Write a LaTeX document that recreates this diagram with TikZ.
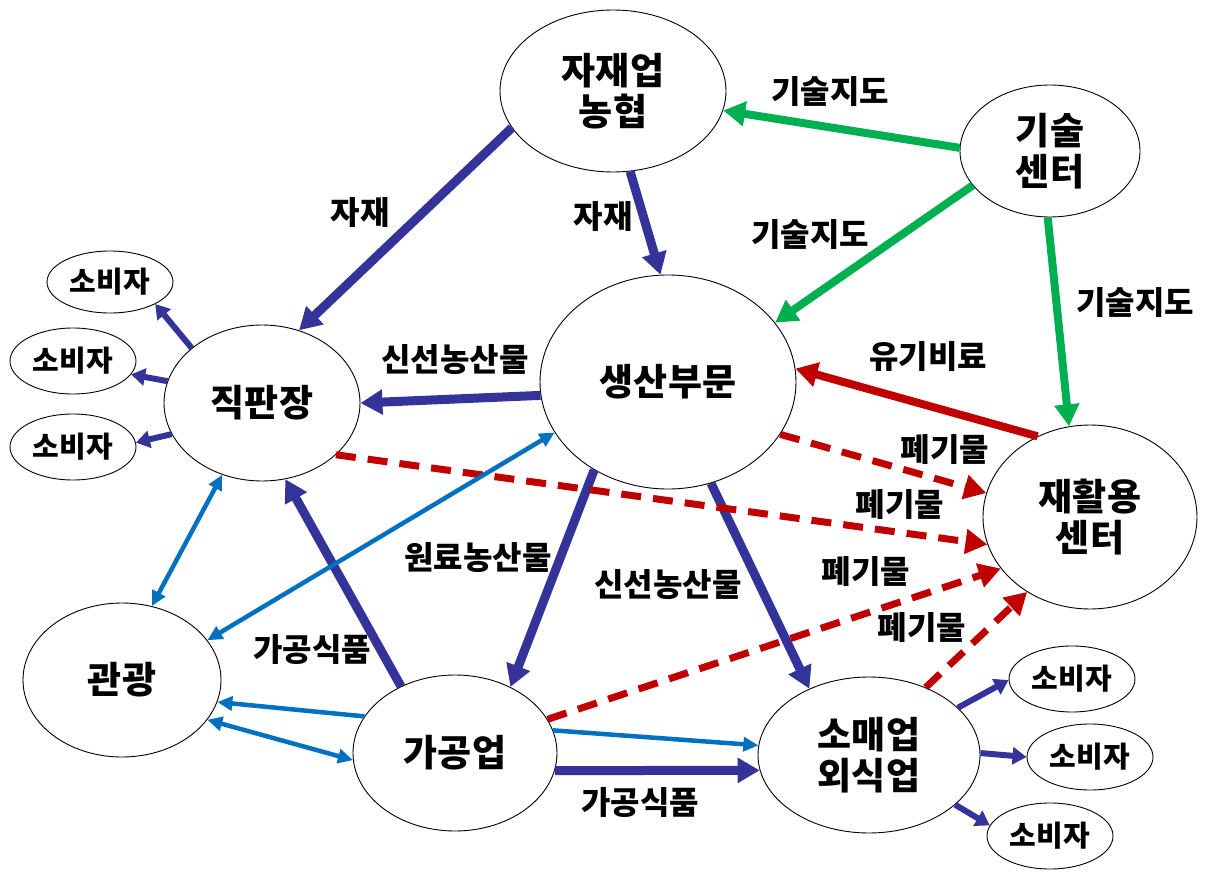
\documentclass[tikz,border=0pt]{standalone}
\usepackage{fontspec}
\newfontfamily\kr{Noto Sans CJK KR}
\usetikzlibrary{shapes.geometric,arrows.meta}
\definecolor{navy}{HTML}{333399}
\definecolor{tgreen}{HTML}{00B050}
\definecolor{tred}{HTML}{C00000}
\definecolor{tblue}{HTML}{0070C0}
\begin{document}
\begin{tikzpicture}[x=1pt,y=-1pt,
  ell/.style={ellipse, draw=black, line width=0.9pt, inner sep=0pt},
  big/.style={ell, font=\kr\bfseries\fontsize{37}{41}\selectfont, align=center},
  cons/.style={ell, font=\kr\bfseries\fontsize{29}{32}\selectfont, minimum width=126pt, minimum height=66pt},
  lab/.style={font=\kr\bfseries\fontsize{32}{36}\selectfont, inner sep=0pt},
  thick/.style={line width=9pt, navy, -{Triangle[length=22pt,width=24pt]}},
  carr/.style={line width=6pt, navy, -{Triangle[length=14pt,width=17pt]}},
  grn/.style={line width=8pt, tgreen, -{Triangle[length=22pt,width=24pt]}},
  redsolid/.style={line width=8pt, tred, -{Triangle[length=22pt,width=24pt]}},
  reddash/.style={line width=7pt, tred, dash pattern=on 20pt off 12pt, -{Triangle[length=22pt,width=24pt]}},
  blu/.style={line width=4.5pt, tblue, -{Triangle[length=15pt,width=14pt]}},
  blu2/.style={line width=4.5pt, tblue, {Triangle[length=15pt,width=14pt]}-{Triangle[length=15pt,width=14pt]}}
]
\useasboundingbox (0,0) rectangle (1208,872);

% main nodes
\node[big, minimum width=226pt, minimum height=162pt] (J) at (613,91) {자재업\\농협};
\node[big, minimum width=180pt, minimum height=132pt] (T) at (1050,151) {기술\\센터};
\node[big, minimum width=256pt, minimum height=214pt] (S) at (668,382) {생산부문};
\node[big, minimum width=196pt, minimum height=156pt] (D) at (262,403) {직판장};
\node[big, minimum width=214pt, minimum height=184pt] (R) at (1090,517) {재활용\\센터};
\node[big, minimum width=198pt, minimum height=154pt] (G) at (122,680) {관광};
\node[big, minimum width=204pt, minimum height=156pt] (P) at (455,753) {가공업};
\node[big, minimum width=222pt, minimum height=156pt] (M) at (869,755) {소매업\\외식업};

% consumers
\node[cons, minimum height=62pt] (L1) at (110,282) {소비자};
\node[cons] (L2) at (73,361) {소비자};
\node[cons] (L3) at (73,447) {소비자};
\node[cons] (C1) at (1072,679) {소비자};
\node[cons] (C2) at (1090,757) {소비자};
\node[cons] (C3) at (1050,836) {소비자};

% navy thick arrows
\draw[thick] (J.200) -- (D.63);
\draw[thick] (J.282) -- (S.94);
\draw[thick] (S.186) -- (D.0);
\draw[thick] (S.230) -- (P.50);
\draw[thick] (S.293) -- (M.132);
\draw[thick] (P.129) -- (D.287);
\draw[thick] (P.350) -- (M.188);

% consumer arrows
\draw[carr] (D.142) -- (L1.334);
\draw[carr] (D.167) -- (L2.347);
\draw[carr] (D.199) -- (L3.4);
\draw[carr] (M.28) -- (C1.181);
\draw[carr] (M.1) -- (C2.180);
\draw[carr] (M.330) -- (C3.170);

% green arrows
\draw[grn] (T.178) -- (J.350);
\draw[grn] (T.204) -- (S.29);
\draw[grn] (T.268) -- (R.103);

% red arrows
\draw[redsolid] (R.123) -- (S.6);
\draw[reddash] (S.335) -- (R.167);
\draw[reddash] (D.325) -- (R.195);
\draw[reddash] (P.20) -- (R.210);
\draw[reddash] (M.50) -- (R.230);

% blue arrows
\draw[blu2] (D.241) -- (G.68);
\draw[blu2] (S.204) -- (G.25);
\draw[blu] (P.158) -- (G.347);
\draw[blu2] (G.335) -- (P.184);
\draw[blu] (P.13) -- (M.175);

% labels
\node[lab] (a1) at (360,213) {자재};
\node[lab] (a2) at (603,217) {자재};
\node[lab] (g1) at (830,92) {기술지도};
\node[lab] (g2) at (810,235) {기술지도};
\node[lab] (g3) at (1135,303) {기술지도};
\node[lab] (f1) at (455,360) {신선농산물};
\node[lab] (o1) at (928,357) {유기비료};
\node[lab] (w1) at (945,450) {폐기물};
\node[lab] (w2) at (900,505) {폐기물};
\node[lab] (r1) at (478,558) {원료농산물};
\node[lab] (f2) at (668,585) {신선농산물};
\node[lab] (w3) at (866,572) {폐기물};
\node[lab] (w4) at (922,628) {폐기물};
\node[lab] (k1) at (312,650) {가공식품};
\node[lab] (k2) at (640,803) {가공식품};
\end{tikzpicture}
\end{document}
